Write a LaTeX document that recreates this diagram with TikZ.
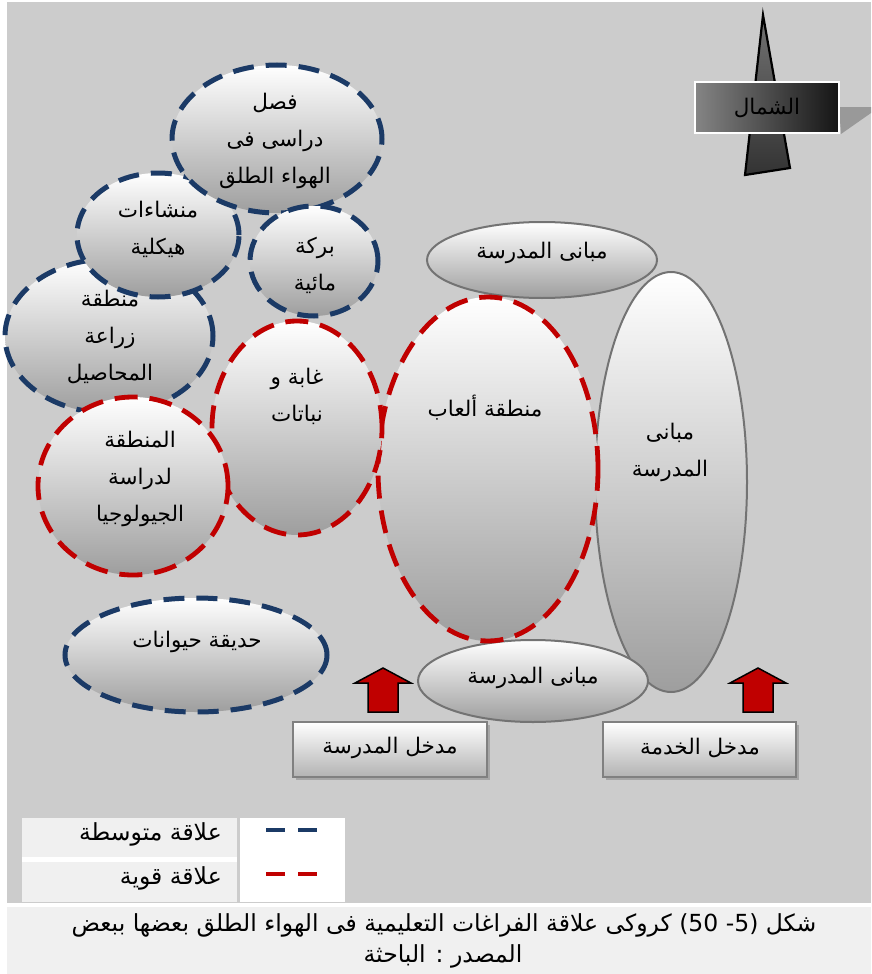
\documentclass[tikz,border=0pt]{standalone}
\usepackage{fontspec}
\usetikzlibrary{shapes.geometric}
\newfontfamily\arabicfont[Script=Arabic]{DejaVu Sans}
\TeXXeTstate=1
\newcommand\RR[1]{\beginR #1\endR}
\definecolor{navy}{HTML}{1B3A66}
\definecolor{strongred}{HTML}{C00000}
\definecolor{bggray}{HTML}{CCCCCC}
\definecolor{capgray}{HTML}{F0F0F0}
\tikzset{
  zone/.style={ellipse, inner sep=0pt, top color=white, bottom color=black!38},
  midrel/.style={zone, draw=navy, line width=5pt, dash pattern=on 21pt off 12pt},
  strongrel/.style={zone, draw=strongred, line width=4.8pt, dash pattern=on 23pt off 12pt},
  building/.style={zone, draw=black!55, line width=2pt},
  lbl/.style={font=\arabicfont\fontsize{21.5}{37}\selectfont, align=center, inner sep=0pt, text=black},
  biglbl/.style={lbl, font=\arabicfont\fontsize{23.5}{28}\selectfont},
  entrybox/.style={draw=black!50, line width=2.5pt, top color=white, bottom color=black!30, inner sep=0pt},
  uparrow/.style={fill=strongred, draw=black, line width=1.5pt, line join=miter},
  legdash/.style={line width=4pt}
}
\begin{document}
\begin{tikzpicture}[x=1pt,y=-1pt]
\useasboundingbox (0,0) rectangle (871,974);
\fill[white] (0,0) rectangle (871,974);
\fill[bggray] (7,2) rectangle (871,903);
\fill[capgray] (7,907) rectangle (871,974);

% north arrow
\fill[black!40] (839,107) -- (871,107) -- (871,113) -- (841,134) -- cycle;
\draw[line width=2.2pt, top color=black!55, bottom color=black!80] (763,15) -- (790,168) -- (745,175) -- cycle;
\node[draw=white, line width=2pt, left color=black!48, right color=black!92, minimum width=144pt, minimum height=51pt, inner sep=0pt] (northbox) at (767,107.5) {};
\node[lbl, text=black] (northlbl) at (767,108) {\RR{الشمال}};

% buildings
\node[building, minimum width=152pt, minimum height=420pt] (bldtall) at (671,482) {};
\node[building, minimum width=230pt, minimum height=76pt] (bldtop) at (542,260) {};
\node[building, minimum width=230pt, minimum height=82pt] (bldbot) at (533,681) {};
\node[lbl] (bldtalllbl) at (670,452) {\fontsize{21.5}{31}\selectfont\RR{مبانى}\\\RR{المدرسة}};
\node[lbl] (bldtoplbl) at (542,253) {\RR{مبانى المدرسة}};
\node[lbl] (bldbotlbl) at (533,678) {\RR{مبانى المدرسة}};

% play area
\node[strongrel, minimum width=220pt, minimum height=344pt] (play) at (488,469) {};
\node[lbl] (playlbl) at (485,408) {\RR{منطقة ألعاب}};

% crops
\node[midrel, minimum width=208pt, minimum height=154pt] (crops) at (109,336) {};
\node[lbl] (cropslbl) at (110,337) {\fontsize{21.5}{35}\selectfont\RR{منطقة}\\\RR{زراعة}\\\RR{المحاصيل}};

% structures
\node[midrel, minimum width=162pt, minimum height=124pt] (struct) at (158,235) {};
\node[lbl] (structlbl) at (158,229) {\fontsize{21.5}{32}\selectfont\RR{منشاءات}\\\RR{هيكلية}};

% outdoor class
\node[midrel, minimum width=210pt, minimum height=148pt] (class) at (277,139) {};
\node[lbl] (classlbl) at (275,141) {\RR{فصل}\\\RR{دراسى فى}\\\RR{الهواء الطلق}};

% pond
\node[midrel, minimum width=128pt, minimum height=110pt] (pond) at (314,261) {};
\node[lbl] (pondlbl) at (315,265) {\fontsize{21.5}{30}\selectfont\RR{بركة}\\\RR{مائية}};

% forest
\node[strongrel, minimum width=170pt, minimum height=214pt] (forest) at (297,428) {};
\node[lbl] (forestlbl) at (297,396) {\fontsize{21.5}{32}\selectfont\RR{غابة و}\\\RR{نباتات}};

% geology
\node[strongrel, minimum width=190pt, minimum height=178pt] (geo) at (133,486) {};
\node[lbl] (geolbl) at (140,479) {\fontsize{21.5}{34}\selectfont\RR{المنطقة}\\\RR{لدراسة}\\\RR{الجيولوجيا}};

% zoo
\node[midrel, minimum width=262pt, minimum height=114pt] (zoo) at (196,655) {};
\node[lbl] (zoolbl) at (197,642) {\RR{حديقة حيوانات}};

% entrance arrows
\draw[uparrow] (368,712) -- (368,683) -- (355,683) -- (383,668) -- (411,683) -- (398,683) -- (398,712) -- cycle;
\draw[uparrow] (743,712) -- (743,683) -- (730,683) -- (758,668) -- (786,683) -- (773,683) -- (773,712) -- cycle;

% entrance boxes
\fill[black!35] (296,725) rectangle (490,780);
\fill[black!35] (606,725) rectangle (799,780);
\node[entrybox, minimum width=194pt, minimum height=55pt] (schoolentry) at (390,749.5) {};
\node[entrybox, minimum width=193pt, minimum height=55pt] (serviceentry) at (699.5,749.5) {};
\node[lbl] (schoolentrylbl) at (390,748) {\RR{مدخل المدرسة}};
\node[lbl] (serviceentrylbl) at (700,748) {\RR{مدخل الخدمة}};

% legend
\fill[capgray] (22,818) rectangle (237,857);
\fill[capgray] (22,862) rectangle (237,902);
\fill[white] (22,857) rectangle (237,862);
\fill[white] (240,818) rectangle (345,902);
\node[biglbl, anchor=east] (legmid) at (222,834) {\RR{علاقة متوسطة}};
\node[biglbl, anchor=east] (legstrong) at (222,878) {\RR{علاقة قوية}};
\coordinate (m1) at (266,830); \coordinate (m2) at (317,830);
\coordinate (s1) at (266,874); \coordinate (s2) at (317,874);
\draw[legdash, navy, dash pattern=on 19pt off 13pt] (m1) -- (m2);
\draw[legdash, strongred, dash pattern=on 19pt off 13pt] (s1) -- (s2);

% caption
\node[biglbl] (cap1) at (444,925) {\RR{شكل \beginL 50) (5-\endL{} كروكى علاقة الفراغات التعليمية فى الهواء الطلق بعضها ببعض}};
\node[biglbl] (cap2) at (443,956) {\RR{المصدر : الباحثة}};
\end{tikzpicture}
\end{document}
